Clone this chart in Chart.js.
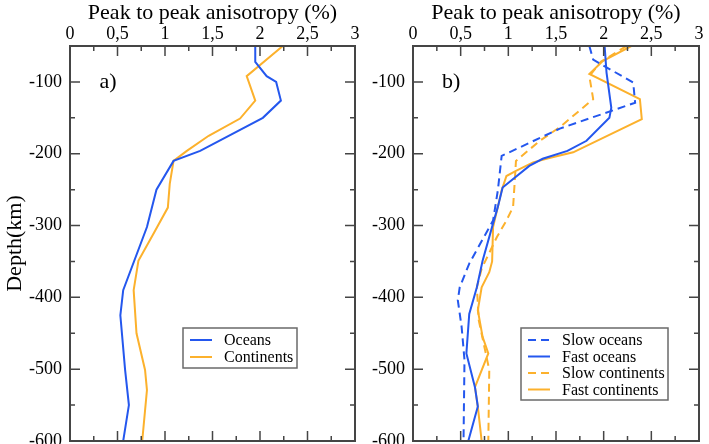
<!DOCTYPE html>
<html>
<head>
<meta charset="utf-8">
<script src="https://cdn.jsdelivr.net/npm/chart.js@4.4.1/dist/chart.umd.min.js"></script>
<style>
  html, body { margin: 0; padding: 0; background: #fff; }
  #wrap { position: relative; width: 709px; height: 444px; overflow: hidden; }
  canvas { position: absolute; top: 0; }
  #chartA { left: 0; }
  #chartB { left: 355px; }
</style>
</head>
<body>
<div id="wrap">
  <canvas id="chartA" width="360" height="444"></canvas>
  <canvas id="chartB" width="354" height="444"></canvas>
</div>
<script>
// --- tick values ---
const X_TICKS = [0, 0.5, 1, 1.5, 2, 2.5, 3];
const Y_TICKS = [-600, -500, -400, -300, -200, -100];

// --- panel a) ---
const oceansDepth = [-50, -72, -92, -100, -126, -150, -196, -210, -250, -302, -390, -425, -501, -550, -600];
const oceansAniso = [1.95, 1.95, 2.07, 2.17, 2.22, 2.03, 1.37, 1.09, 0.91, 0.81, 0.56, 0.53, 0.58, 0.62, 0.56];
const contDepth = [-50, -92, -126, -151, -175, -196, -210, -242, -275, -311, -349, -390, -450, -501, -529, -600];
const contAniso = [2.24, 1.86, 1.95, 1.79, 1.46, 1.23, 1.09, 1.05, 1.03, 0.88, 0.72, 0.67, 0.70, 0.79, 0.81, 0.76];

// --- panel b) ---
const slowOceansDepth = [-50, -69, -101, -129, -165, -203, -251, -293, -353, -386, -404, -441, -487, -600];
const slowOceansAniso = [1.85, 1.89, 2.31, 2.33, 1.54, 0.93, 0.89, 0.84, 0.59, 0.49, 0.47, 0.51, 0.54, 0.53];
const fastOceansDepth = [-50, -87, -136, -150, -182, -196, -207, -217, -247, -274, -297, -349, -386, -423, -478, -525, -552, -600];
const fastOceansAniso = [2.01, 2.03, 2.08, 2.06, 1.82, 1.62, 1.36, 1.22, 0.94, 0.89, 0.84, 0.73, 0.67, 0.59, 0.56, 0.65, 0.68, 0.58];
const slowContDepth = [-50, -72, -92, -124, -163, -182, -210, -233, -274, -293, -316, -360, -386, -432, -501, -600];
const slowContAniso = [2.24, 1.97, 1.85, 1.89, 1.54, 1.33, 1.08, 1.07, 1.05, 0.98, 0.88, 0.72, 0.67, 0.69, 0.80, 0.79];
const fastContDepth = [-50, -71, -89, -124, -152, -198, -206, -212, -224, -231, -251, -274, -302, -350, -365, -386, -418, -455, -478, -525, -552, -600];
const fastContAniso = [2.29, 1.99, 1.85, 2.38, 2.40, 1.68, 1.43, 1.26, 1.08, 0.98, 0.93, 0.89, 0.84, 0.83, 0.80, 0.72, 0.68, 0.73, 0.79, 0.65, 0.68, 0.72];

const BLUE = '#2457ee';
const ORANGE = '#fcb12c';
const FRAME = '#454545';
const FONT = '"Liberation Serif", "Times New Roman", serif';

function pts (depths, values) {
  return depths.map((d, i) => ({ x: values[i], y: d }));
}

function series (label, depths, values, color, dashed) {
  return {
    label,
    data: pts(depths, values),
    borderColor: color,
    backgroundColor: color,
    borderWidth: 2,
    borderDash: dashed ? [8, 5] : [],
    showLine: true,
    pointRadius: 0,
    tension: 0
  };
}

// inward ticks on all four sides plus the frame
const frameTicks = {
  id: 'frameTicks',
  afterDatasetsDraw (chart) {
    const { ctx, chartArea: a, scales: { x, y } } = chart;
    ctx.save();
    ctx.strokeStyle = FRAME;
    ctx.lineWidth = 1.5;
    ctx.beginPath();
    for (let i = 0; i < X_TICKS.length; i++) {
      const v = X_TICKS[i];
      const px = x.getPixelForValue(v);
      ctx.moveTo(px, a.top); ctx.lineTo(px, a.top + 10);
      ctx.moveTo(px, a.bottom); ctx.lineTo(px, a.bottom - 10);
      if (i < X_TICKS.length - 1) {
        const mx = x.getPixelForValue(v + 0.25);
        ctx.moveTo(mx, a.top); ctx.lineTo(mx, a.top + 5);
        ctx.moveTo(mx, a.bottom); ctx.lineTo(mx, a.bottom - 5);
      }
    }
    for (let i = 0; i < Y_TICKS.length; i++) {
      const v = Y_TICKS[i];
      const py = y.getPixelForValue(v);
      ctx.moveTo(a.left, py); ctx.lineTo(a.left + 10, py);
      ctx.moveTo(a.right, py); ctx.lineTo(a.right - 10, py);
      const my = y.getPixelForValue(v + 50);
      ctx.moveTo(a.left, my); ctx.lineTo(a.left + 5, my);
      ctx.moveTo(a.right, my); ctx.lineTo(a.right - 5, my);
    }
    ctx.stroke();
    ctx.lineWidth = 2;
    ctx.strokeRect(a.left, a.top, a.width, a.height);
    ctx.restore();
  }
};

// panel tag and boxed legend, drawn from the datasets
const boxLegend = {
  id: 'boxLegend',
  afterDraw (chart, args, opts) {
    const { ctx, scales: { x, y } } = chart;
    ctx.save();
    ctx.fillStyle = '#000';
    ctx.font = '22px ' + FONT;
    ctx.textAlign = 'center';
    ctx.textBaseline = 'middle';
    ctx.fillText(opts.tag, x.getPixelForValue(0.4), y.getPixelForValue(-100));

    const b = opts.box;
    ctx.fillStyle = '#fff';
    ctx.fillRect(b.x, b.y, b.w, b.h);
    ctx.strokeStyle = '#6a6a6a';
    ctx.lineWidth = 1.5;
    ctx.strokeRect(b.x, b.y, b.w, b.h);
    ctx.font = '16px ' + FONT;
    ctx.textAlign = 'left';
    chart.data.datasets.forEach((ds, i) => {
      const ry = b.y + b.first + i * b.row;
      ctx.strokeStyle = ds.borderColor;
      ctx.lineWidth = 2;
      ctx.setLineDash(ds.borderDash);
      ctx.beginPath();
      ctx.moveTo(b.x + 7, ry); ctx.lineTo(b.x + 29, ry);
      ctx.stroke();
      ctx.setLineDash([]);
      ctx.fillStyle = '#000';
      ctx.fillText(ds.label, b.x + 41, ry + 1);
    });
    ctx.restore();
  }
};

function makeOptions (yWidth, rightPad, showYTitle, tag, box) {
  return {
    responsive: false,
    animation: false,
    layout: { padding: { left: 0, right: rightPad, top: 0, bottom: 3 } },
    plugins: {
      legend: { display: false },
      tooltip: { enabled: false },
      boxLegend: { tag, box }
    },
    scales: {
      x: {
        type: 'linear',
        position: 'top',
        min: 0,
        max: 3,
        afterBuildTicks: s => { s.ticks = X_TICKS.map(v => ({ value: v })); },
        afterFit: s => { s.height = 46; s.paddingLeft = 0; s.paddingRight = 0; },
        grid: { display: false, drawTicks: false },
        border: { display: false },
        ticks: {
          color: '#000',
          padding: 1,
          maxRotation: 0,
          autoSkip: false,
          font: { family: FONT, size: 18 },
          callback: v => String(v).replace('.', ',')
        },
        title: {
          display: true,
          text: 'Peak to peak anisotropy (%)',
          color: '#000',
          padding: { top: 0, bottom: 0 },
          font: { family: FONT, size: 22 }
        }
      },
      y: {
        type: 'linear',
        min: -600,
        max: -50,
        afterBuildTicks: s => { s.ticks = Y_TICKS.map(v => ({ value: v })); },
        afterFit: s => { s.width = yWidth; s.paddingTop = 0; s.paddingBottom = 0; },
        grid: { display: false, drawTicks: false },
        border: { display: false },
        ticks: {
          color: '#000',
          padding: 8,
          autoSkip: false,
          font: { family: FONT, size: 18 }
        },
        title: {
          display: showYTitle,
          text: 'Depth(km)',
          color: '#000',
          padding: { top: 2, bottom: 0 },
          font: { family: FONT, size: 22 }
        }
      }
    }
  };
}

new Chart(document.getElementById('chartA'), {
  type: 'scatter',
  data: {
    datasets: [
      series('Oceans', oceansDepth, oceansAniso, BLUE, false),
      series('Continents', contDepth, contAniso, ORANGE, false)
    ]
  },
  options: makeOptions(70, 5, true, 'a)', { x: 183, y: 328, w: 114, h: 40, first: 12, row: 17 }),
  plugins: [frameTicks, boxLegend]
});

new Chart(document.getElementById('chartB'), {
  type: 'scatter',
  data: {
    datasets: [
      series('Slow oceans', slowOceansDepth, slowOceansAniso, BLUE, true),
      series('Fast oceans', fastOceansDepth, fastOceansAniso, BLUE, false),
      series('Slow continents', slowContDepth, slowContAniso, ORANGE, true),
      series('Fast continents', fastContDepth, fastContAniso, ORANGE, false)
    ]
  },
  options: makeOptions(58, 10, false, 'b)', { x: 166, y: 328, w: 147, h: 72, first: 12, row: 16.5 }),
  plugins: [frameTicks, boxLegend]
});
</script>
</body>
</html>
